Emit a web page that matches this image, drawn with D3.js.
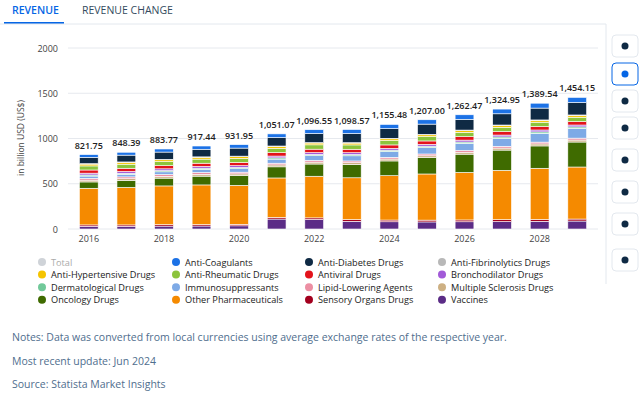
<!DOCTYPE html>
<html><head><meta charset="utf-8">
<script src="https://cdn.jsdelivr.net/npm/d3@7"></script>
<style>
body{margin:0;font-family:"Open Sans",sans-serif;background:#fff;}
svg text{font-family:"Open Sans",sans-serif;}
</style></head>
<body><svg id="chart" width="640" height="402"></svg>
<script>
const years = [2016,2017,2018,2019,2020,2021,2022,2023,2024,2025,2026,2027,2028,2029];
const totals = [821.75,848.39,883.77,917.44,931.95,1051.07,1096.55,1098.57,1155.48,1207.00,1262.47,1324.95,1389.54,1454.15];
const totalLabels = ["821.75","848.39","883.77","917.44","931.95","1,051.07","1,096.55","1,098.57","1,155.48","1,207.00","1,262.47","1,324.95","1,389.54","1,454.15"];

// stack order, bottom to top
const seriesNames = ["Vaccines","Sensory Organs Drugs","Other Pharmaceuticals","Oncology Drugs","Multiple Sclerosis Drugs","Lipid-Lowering Agents","Immunosuppressants","Dermatological Drugs","Bronchodilator Drugs","Antiviral Drugs","Anti-Rheumatic Drugs","Anti-Hypertensive Drugs","Anti-Fibrinolytics Drugs","Anti-Diabetes Drugs","Anti-Coagulants"];
const seriesColors = ["#5b2c86","#a3001e","#f58a00","#3f6b00","#cdb083","#ec8fa3","#7eaae6","#71c99a","#a25ad8","#e3131b","#8cc43c","#f5c400","#b8b8b8","#0f2a44","#1c72e6"];

const vaccines = [30,30,32,33,35,110,105,85,80,78,80,82,85,88];
const sensory = [15,15,16,16,17,18,18,19,19,20,20,21,21,22];
const otherPharma = [405,415,428,438,430,436,460,462,490,510,525,545,565,575];
const oncology = [70,76,86,97,107,123,135,146,163,180,202,224,247,276];
const multipleSclerosis = [20,20,20,20,20,21,21,21,21,21,21,22,22,22];
const lipid = [20,20,20,20,19,19,19,19,19,20,20,20,20,21];
const immuno = [25,28,30,35,39,45,52,57,64,71,78,87,97,108];
const dermatological = [12,12,13,13,13,14,14,14,15,15,15,16,16,16];
const bronchodilator = [20,20,20,20,20,20,20,20,20,20,21,21,21,21];
const antiviral = [35,35,35,35,35,38,38,38,38,38,38,38,38,38];
const antiRheumatic = [45,45,45,45,45,48,48,48,48,48,48,48,48,48];
const antiHypertensive = [20,20,20,20,20,20,20,20,20,20,20,20,20,20];
const antiFibrinolytics = [5,5,5,5,5,5,5,5,5,5,5,5,5,5];
const antiDiabetes = [70,75,80,84,89,94,100,101,107,113,119,124,131,138];
const antiCoagulants = [30,32,34,36,38,40,42,44,46,48,50,52,54,56];
const seriesValues = [vaccines,sensory,otherPharma,oncology,multipleSclerosis,lipid,immuno,dermatological,bronchodilator,antiviral,antiRheumatic,antiHypertensive,antiFibrinolytics,antiDiabetes,antiCoagulants];

const yTicks = [0,500,1000,1500,2000];
const xTickYears = [2016,2018,2020,2022,2024,2026,2028];

const legendItems = ["Total","Anti-Coagulants","Anti-Diabetes Drugs","Anti-Fibrinolytics Drugs","Anti-Hypertensive Drugs","Anti-Rheumatic Drugs","Antiviral Drugs","Bronchodilator Drugs","Dermatological Drugs","Immunosuppressants","Lipid-Lowering Agents","Multiple Sclerosis Drugs","Oncology Drugs","Other Pharmaceuticals","Sensory Organs Drugs","Vaccines"];

const svg = d3.select("#chart");

// tabs
svg.append("text").attr("x",12).attr("y",14).attr("fill","#0666e5").attr("font-size",10.5).attr("font-weight",600).text("REVENUE");
svg.append("rect").attr("x",4).attr("y",22).attr("width",60).attr("height",2).attr("fill","#0666e5");
svg.append("text").attr("x",82).attr("y",14).attr("fill","#334a5e").attr("font-size",10.5).attr("font-weight",500).text("REVENUE CHANGE");
svg.append("line").attr("x1",0).attr("x2",606).attr("y1",24).attr("y2",24).attr("stroke","#e3e8ee");

// toolbar
svg.append("line").attr("x1",606).attr("x2",606).attr("y1",24).attr("y2",284).attr("stroke","#e3e8ee");
const icons = [46,74,101,128,160,192,224,260];
icons.forEach((cy,i) => {
  svg.append("rect").attr("x",612).attr("y",cy-11).attr("width",26).attr("height",22).attr("rx",4)
    .attr("fill","#fff").attr("stroke", i===1 ? "#0666e5" : "#e3e8ee");
  svg.append("circle").attr("cx",625).attr("cy",cy).attr("r",3.5).attr("fill", i===1 ? "#0666e5" : "#0f2a44");
});

const x = d3.scaleBand().domain(years).range([70,596]).paddingInner(0.5).paddingOuter(0.25);
const y = d3.scaleLinear().domain([0,2000]).range([229,48]);

svg.append("g").selectAll("line").data(yTicks).join("line")
  .attr("x1",68).attr("x2",598).attr("y1",d=>y(d)).attr("y2",d=>y(d))
  .attr("stroke","#e6e9ee");
svg.append("g").selectAll("text").data(yTicks).join("text")
  .attr("x",58).attr("y",d=>y(d)+3.5).attr("text-anchor","end").attr("font-size",9).attr("fill","#444")
  .text(d=>d);
svg.append("text").attr("transform","translate(24,138) rotate(-90)").attr("text-anchor","middle")
  .attr("font-size",8.5).attr("fill","#444").text("in billion USD (US$)");

const table = years.map((yr,i) => {
  const row = {year: yr};
  seriesNames.forEach((n,j) => row[n] = seriesValues[j][i]);
  return row;
});
const stacked = d3.stack().keys(seriesNames)(table);

svg.append("g").selectAll("g").data(stacked).join("g")
  .attr("fill",(d,i)=>seriesColors[i])
  .selectAll("rect").data(d=>d).join("rect")
  .attr("x",d=>x(d.data.year)).attr("width",x.bandwidth())
  .attr("y",d=>y(d[1])).attr("height",d=>Math.max(0,y(d[0])-y(d[1])))
  .attr("stroke","#fff").attr("stroke-width",0.6);

svg.append("g").selectAll("text").data(years).join("text")
  .attr("x",d=>x(d)+x.bandwidth()/2).attr("y",(d,i)=>y(totals[i])-6)
  .attr("text-anchor","middle").attr("font-size",9).attr("font-weight",600).attr("fill","#222")
  .text((d,i)=>totalLabels[i]);

svg.append("g").selectAll("text").data(xTickYears).join("text")
  .attr("x",d=>x(d)+x.bandwidth()/2).attr("y",242).attr("text-anchor","middle")
  .attr("font-size",9).attr("fill","#444").text(d=>d);

// legend
const colX = [42,176,309,442];
const lg = svg.append("g").selectAll("g").data(legendItems).join("g")
  .attr("transform",(d,i)=>`translate(${colX[i%4]},${262+Math.floor(i/4)*12.6})`);
lg.append("circle").attr("r",4).attr("fill",d => d==="Total" ? "#cfd3d8" : seriesColors[seriesNames.indexOf(d)]);
lg.append("text").attr("x",9).attr("y",3.5).attr("font-size",9.2)
  .attr("fill",d=>d==="Total"?"#aaa":"#222").text(d=>d);

const notes = ["Notes: Data was converted from local currencies using average exchange rates of the respective year.","Most recent update: Jun 2024","Source: Statista Market Insights"];
svg.append("g").selectAll("text").data(notes).join("text")
  .attr("x",12).attr("y",(d,i)=>341+i*23.5).attr("font-size",10.5).attr("fill","#4f6e8e").text(d=>d);
</script></body></html>
